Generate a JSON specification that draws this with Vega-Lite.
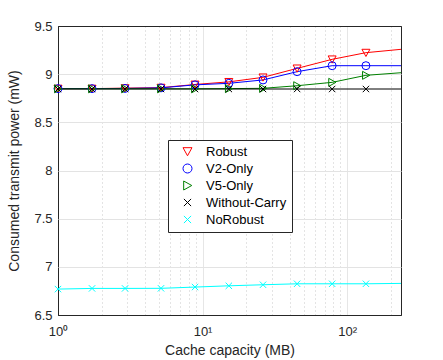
{
  "$schema": "https://vega.github.io/schema/vega-lite/v6.json",
  "autosize": {"type": "none"},
  "width": 343,
  "height": 289,
  "padding": {"left": 58, "top": 26, "right": 42, "bottom": 45},
  "background": "white",
  "config": {
    "view": {"stroke": "#262626", "strokeWidth": 1},
    "font": "Liberation Sans",
    "axis": {
      "domain": false,
      "labelFont": "Liberation Sans",
      "titleFont": "Liberation Sans",
      "labelColor": "#262626",
      "titleColor": "#262626",
      "labelFontSize": 13,
      "titleFontSize": 14,
      "titleFontWeight": "normal",
      "tickColor": "#262626"
    }
  },
  "data": {
    "values": [
      {"x": 1, "y": 8.85, "series": "Robust", "m": 1},
      {"x": 1.72, "y": 8.85, "series": "Robust", "m": 1},
      {"x": 2.91, "y": 8.855, "series": "Robust", "m": 1},
      {"x": 5.16, "y": 8.86, "series": "Robust", "m": 1},
      {"x": 8.87, "y": 8.893, "series": "Robust", "m": 1},
      {"x": 15.2, "y": 8.92, "series": "Robust", "m": 1},
      {"x": 26.2, "y": 8.967, "series": "Robust", "m": 1},
      {"x": 45.1, "y": 9.06, "series": "Robust", "m": 1},
      {"x": 78.8, "y": 9.154, "series": "Robust", "m": 1},
      {"x": 135, "y": 9.223, "series": "Robust", "m": 1},
      {"x": 236, "y": 9.258, "series": "Robust", "m": 0},
      {"x": 1, "y": 8.85, "series": "V2-Only", "m": 1},
      {"x": 1.72, "y": 8.85, "series": "V2-Only", "m": 1},
      {"x": 2.91, "y": 8.852, "series": "V2-Only", "m": 1},
      {"x": 5.16, "y": 8.858, "series": "V2-Only", "m": 1},
      {"x": 8.87, "y": 8.889, "series": "V2-Only", "m": 1},
      {"x": 15.2, "y": 8.905, "series": "V2-Only", "m": 1},
      {"x": 26.2, "y": 8.94, "series": "V2-Only", "m": 1},
      {"x": 45.1, "y": 9.026, "series": "V2-Only", "m": 1},
      {"x": 78.8, "y": 9.088, "series": "V2-Only", "m": 1},
      {"x": 135, "y": 9.088, "series": "V2-Only", "m": 1},
      {"x": 236, "y": 9.088, "series": "V2-Only", "m": 0},
      {"x": 1, "y": 8.848, "series": "V5-Only", "m": 1},
      {"x": 1.72, "y": 8.848, "series": "V5-Only", "m": 1},
      {"x": 2.91, "y": 8.848, "series": "V5-Only", "m": 1},
      {"x": 5.16, "y": 8.848, "series": "V5-Only", "m": 1},
      {"x": 8.87, "y": 8.848, "series": "V5-Only", "m": 1},
      {"x": 15.2, "y": 8.85, "series": "V5-Only", "m": 1},
      {"x": 26.2, "y": 8.853, "series": "V5-Only", "m": 1},
      {"x": 45.1, "y": 8.88, "series": "V5-Only", "m": 1},
      {"x": 78.8, "y": 8.915, "series": "V5-Only", "m": 1},
      {"x": 135, "y": 8.988, "series": "V5-Only", "m": 1},
      {"x": 236, "y": 9.015, "series": "V5-Only", "m": 0},
      {"x": 1, "y": 8.846, "series": "Without-Carry", "m": 1},
      {"x": 1.72, "y": 8.846, "series": "Without-Carry", "m": 1},
      {"x": 2.91, "y": 8.846, "series": "Without-Carry", "m": 1},
      {"x": 5.16, "y": 8.846, "series": "Without-Carry", "m": 1},
      {"x": 8.87, "y": 8.846, "series": "Without-Carry", "m": 1},
      {"x": 15.2, "y": 8.846, "series": "Without-Carry", "m": 1},
      {"x": 26.2, "y": 8.846, "series": "Without-Carry", "m": 1},
      {"x": 45.1, "y": 8.846, "series": "Without-Carry", "m": 1},
      {"x": 78.8, "y": 8.846, "series": "Without-Carry", "m": 1},
      {"x": 135, "y": 8.846, "series": "Without-Carry", "m": 1},
      {"x": 236, "y": 8.846, "series": "Without-Carry", "m": 0},
      {"x": 1, "y": 6.769, "series": "NoRobust", "m": 1},
      {"x": 1.72, "y": 6.776, "series": "NoRobust", "m": 1},
      {"x": 2.91, "y": 6.776, "series": "NoRobust", "m": 1},
      {"x": 5.16, "y": 6.777, "series": "NoRobust", "m": 1},
      {"x": 8.87, "y": 6.79, "series": "NoRobust", "m": 1},
      {"x": 15.2, "y": 6.803, "series": "NoRobust", "m": 1},
      {"x": 26.2, "y": 6.814, "series": "NoRobust", "m": 1},
      {"x": 45.1, "y": 6.824, "series": "NoRobust", "m": 1},
      {"x": 78.8, "y": 6.824, "series": "NoRobust", "m": 1},
      {"x": 135, "y": 6.824, "series": "NoRobust", "m": 1},
      {"x": 236, "y": 6.828, "series": "NoRobust", "m": 0}
    ]
  },
  "encoding": {
    "x": {
      "field": "x",
      "type": "quantitative",
      "scale": {"type": "log", "domain": [1, 236], "nice": false},
      "axis": {
        "title": "Cache capacity (MB)",
        "values": [1, 2, 3, 4, 5, 6, 7, 8, 9, 10, 20, 30, 40, 50, 60, 70, 80, 90, 100, 200],
        "labelExpr": "datum.value == 1 ? '10⁰' : datum.value == 10 ? '10¹' : datum.value == 100 ? '10²' : ''",
        "grid": true,
        "gridColor": {"condition": {"test": "datum.value == 1", "value": "#262626"}, "value": "#c8c8c8"},
        "gridDash": {"condition": {"test": "datum.value == 1 || datum.value == 10 || datum.value == 100", "value": []}, "value": [1, 3]},
        "gridOpacity": {"condition": {"test": "datum.value == 10 || datum.value == 100", "value": 0.45}, "value": 1},
        "ticks": false,
        "labelPadding": 10,
        "labelFlush": false,
        "titlePadding": 5
      }
    },
    "y": {
      "field": "y",
      "type": "quantitative",
      "scale": {"domain": [6.5, 9.5], "nice": false, "zero": false},
      "axis": {
        "title": "Consumed transmit power (mW)",
        "values": [6.5, 7, 7.5, 8, 8.5, 9, 9.5],
        "format": ".1~f",
        "grid": true,
        "gridColor": {"condition": {"test": "datum.value == 6.5 || datum.value == 9.5", "value": "#262626"}, "value": "#e3e3e3"},
        "ticks": false,
        "labelPadding": 6,
        "titlePadding": 12
      }
    },
    "color": {
      "field": "series",
      "type": "nominal",
      "sort": null,
      "scale": {
        "domain": ["Robust", "V2-Only", "V5-Only", "Without-Carry", "NoRobust"],
        "range": ["#ff0000", "#0000ff", "#008000", "#000000", "#00ffff"]
      },
      "legend": {
        "title": null,
        "orient": "none",
        "legendX": 110,
        "legendY": 114,
        "fillColor": "white",
        "strokeColor": "#262626",
        "padding": 5,
        "symbolSize": 81,
        "symbolStrokeWidth": 1,
        "symbolOffset": 8,
        "labelOffset": 12,
        "labelFont": "Liberation Sans",
        "labelFontSize": 13,
        "labelColor": "#000000",
        "rowPadding": 3
      }
    }
  },
  "layer": [
    {
      "mark": {"type": "line", "strokeWidth": 1, "clip": true}
    },
    {
      "transform": [{"filter": "datum.m == 1"}],
      "mark": {"type": "point", "filled": false, "strokeWidth": 1, "size": 64, "opacity": 1},
      "encoding": {
        "shape": {
          "field": "series",
          "type": "nominal",
          "legend": null,
          "scale": {
            "domain": ["Robust", "V2-Only", "V5-Only", "Without-Carry", "NoRobust"],
            "range": ["M-1,-0.85L1,-0.85L0,0.95Z", "circle", "M-0.85,-1L0.95,0L-0.85,1Z", "M-0.8,-0.8L0.8,0.8M-0.8,0.8L0.8,-0.8", "M-0.8,-0.8L0.8,0.8M-0.8,0.8L0.8,-0.8"]
          }
        }
      }
    }
  ]
}
